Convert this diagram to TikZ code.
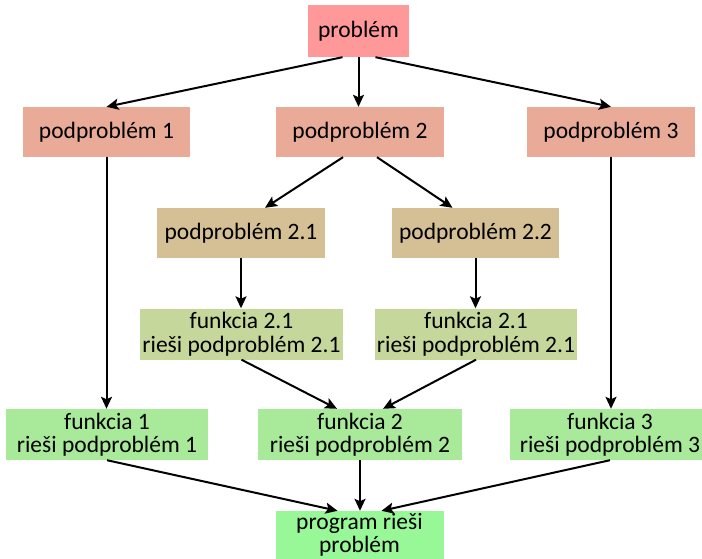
\documentclass[tikz,border=0pt]{standalone}
\usepackage{fontspec}
\setmainfont{Carlito}
\usetikzlibrary{arrows.meta}
\definecolor{cTop}{HTML}{FF9999}
\definecolor{cSub}{HTML}{E9AB97}
\definecolor{cSubSub}{HTML}{D5C096}
\definecolor{cFunSub}{HTML}{C5D79B}
\definecolor{cFun}{HTML}{A9EA9A}
\definecolor{cProg}{HTML}{98F898}
\tikzset{
  box/.style={rectangle, inner sep=0pt, align=center, text=black,
    font=\fontsize{23.5}{23.5}\selectfont},
  arr/.style={line width=2pt, -{Stealth[length=12pt,width=11pt,inset=2.5pt]}}
}
\begin{document}
\begin{tikzpicture}[x=1pt,y=-1pt]
\useasboundingbox (0,0) rectangle (702,559);
\begin{scope}
\clip (0,0) rectangle (702,559);
\node[box, fill=cTop, minimum width=101pt, minimum height=52pt] (p) at (358.5,31) {problém};
\node[box, fill=cSub, minimum width=167pt, minimum height=50pt] (pp1) at (106.5,132) {podproblém 1};
\node[box, fill=cSub, minimum width=168pt, minimum height=50pt] (pp2) at (360,132) {podproblém 2};
\node[box, fill=cSub, minimum width=168pt, minimum height=50pt] (pp3) at (611,132) {podproblém 3};
\node[box, fill=cSubSub, minimum width=168pt, minimum height=50pt] (pp21) at (241,233) {podproblém 2.1};
\node[box, fill=cSubSub, minimum width=167pt, minimum height=50pt] (pp22) at (475.5,233) {podproblém 2.2};
\node[box, fill=cFunSub, minimum width=203pt, minimum height=51pt] (f21a) at (241.5,334) {funkcia 2.1\\rieši podproblém 2.1};
\node[box, fill=cFunSub, minimum width=202pt, minimum height=51pt] (f21b) at (476,334) {funkcia 2.1\\rieši podproblém 2.1};
\node[box, fill=cFun, minimum width=202pt, minimum height=51pt] (f1) at (107,434.5) {funkcia 1\\rieši podproblém 1};
\node[box, fill=cFun, minimum width=204pt, minimum height=51pt] (f2) at (360,434.5) {funkcia 2\\rieši podproblém 2};
\node[box, fill=cFun, minimum width=200pt, minimum height=51pt] (f3) at (610,434.5) {funkcia 3\\rieši podproblém 3};
\node[box, fill=cProg, minimum width=168pt, minimum height=48pt] (prog) at (359.5,535) {program rieši\\problém};
\end{scope}

\draw[arr] ([xshift=-16pt]p.south) -- (pp1.north);
\draw[arr] (p.south) -- (p.south |- pp2.north);
\draw[arr] ([xshift=17pt]p.south) -- (pp3.north);
\draw[arr] ([xshift=-17pt]pp2.south) -- ([xshift=24pt]pp21.north);
\draw[arr] ([xshift=17pt]pp2.south) -- ([xshift=-23pt]pp22.north);
\draw[arr] (pp1.south) -- (pp1.south |- f1.north);
\draw[arr] (pp3.south) -- (pp3.south |- f3.north);
\draw[arr] (pp21.south) -- (pp21.south |- f21a.north);
\draw[arr] (pp22.south) -- (pp22.south |- f21b.north);
\draw[arr] (f21a.south) -- ([xshift=-23pt]f2.north);
\draw[arr] (f21b.south) -- ([xshift=23pt]f2.north);
\draw[arr] (f1.south) -- ([xshift=-22pt]prog.north);
\draw[arr] (f2.south) -- (f2.south |- prog.north);
\draw[arr] (f3.south) -- ([xshift=22pt]prog.north);
\end{tikzpicture}
\end{document}
